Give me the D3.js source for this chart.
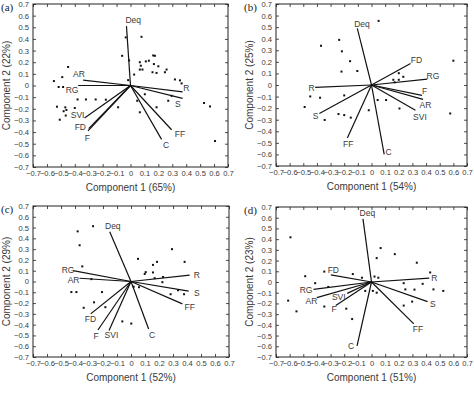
<!DOCTYPE html>
<html><head><meta charset="utf-8">
<script src="https://cdn.jsdelivr.net/npm/d3@7"></script>
<style>
html,body{margin:0;padding:0;background:#fff;}
svg{display:block;}
</style></head>
<body>
<svg id="chart" width="474" height="393"></svg>
<script>
// ---------- DATA ----------
const tickValues = [-0.7,-0.6,-0.5,-0.4,-0.3,-0.2,-0.1,0,0.1,0.2,0.3,0.4,0.5,0.6,0.7];
const panelLetters = ["(a)","(b)","(c)","(d)"];
const xTitles = ["Component 1 (65%)","Component 1 (54%)","Component 1 (52%)","Component 1 (51%)"];
const yTitles = ["Component 2 (22%)","Component 2 (25%)","Component 2 (29%)","Component 2 (23%)"];

// panel (a)
const aVars  = ["Deq","AR","RG","R","S","FF","C","SVI","FD","F"];
const aLoadX = [-0.029,-0.34,-0.376,0.374,0.374,0.295,0.223,-0.33,-0.30,-0.305];
const aLoadY = [0.51,0.046,0.0,-0.055,-0.11,-0.38,-0.463,-0.28,-0.37,-0.39];
const aLabX  = [0.02,-0.37,-0.42,0.40,0.34,0.355,0.255,-0.38,-0.36,-0.31];
const aLabY  = [0.56,0.10,-0.035,-0.025,-0.16,-0.42,-0.515,-0.25,-0.355,-0.45];
const aPtX = [-0.034,0.079,-0.06,-0.01,-0.017,0.026,0.067,0.074,0.067,0.086,0.11,0.132,0.163,0.175,0.168,0.2,0.158,0.187,0.247,0.259,0.319,0.355,0.367,0.295,0.271,0.187,0.103,0.048,0.067,0.528,0.571,0.607,-0.089,-0.177,-0.25,-0.32,-0.38,-0.4,-0.448,-0.49,-0.55,-0.516,-0.484,-0.528,-0.508,-0.465,-0.48,-0.46,-0.468];
const aPtY = [0.413,0.418,0.255,0.215,0.046,0.094,0.2,0.17,0.137,0.137,0.207,0.213,0.258,0.255,0.184,0.165,0.114,0.108,0.114,0.137,0.052,0.044,0.018,-0.089,-0.131,-0.187,-0.075,-0.131,-0.23,-0.15,-0.18,-0.477,-0.187,-0.122,-0.12,-0.12,-0.12,-0.193,0.159,0.072,0.038,-0.013,-0.013,-0.182,-0.294,-0.258,-0.221,-0.21,-0.188];

// panel (b)
const bVars  = ["Deq","FD","RG","F","AR","SVI","C","FF","S","R"];
const bLoadX = [-0.104,0.286,0.408,0.37,0.378,0.322,0.093,-0.177,-0.382,-0.413];
const bLoadY = [0.489,0.186,0.051,-0.09,-0.124,-0.218,-0.6,-0.458,-0.246,-0.02];
const bLabX  = [-0.07,0.33,0.45,0.39,0.395,0.355,0.125,-0.17,-0.41,-0.44];
const bLabY  = [0.53,0.22,0.075,-0.055,-0.17,-0.275,-0.58,-0.51,-0.27,-0.025];
const bPtX = [0.052,-0.237,-0.217,-0.37,-0.157,-0.22,-0.104,0.2,0.233,0.16,0.2,0.17,0.6,0.577,0.045,0.107,0.205,-0.02,-0.2,-0.242,-0.2,-0.152,-0.343,-0.449,-0.377,-0.49];
const bPtY = [0.554,0.39,0.291,0.339,0.206,0.116,0.121,0.102,0.071,0.045,0.045,0.023,0.21,-0.246,-0.13,-0.13,-0.203,-0.218,-0.09,-0.251,-0.26,-0.282,-0.302,-0.099,-0.11,-0.19];

// panel (c)
const cVars  = ["Deq","RG","AR","R","S","FF","C","SVI","F","FD"];
const cLoadX = [-0.152,-0.414,-0.367,0.419,0.412,0.367,0.126,-0.157,-0.236,-0.288];
const cLoadY = [0.462,0.10,0.03,0.059,-0.09,-0.207,-0.44,-0.454,-0.45,-0.30];
const cLabX  = [-0.13,-0.45,-0.41,0.47,0.47,0.42,0.15,-0.14,-0.25,-0.29];
const cLabY  = [0.51,0.11,0.01,0.06,-0.105,-0.235,-0.50,-0.50,-0.505,-0.35];
const cPtX = [-0.271,-0.381,-0.367,-0.348,-0.283,-0.426,-0.39,-0.207,-0.264,-0.338,-0.183,-0.062,0.002,0.019,0.05,0.105,0.098,0.157,0.186,0.157,0.169,0.229,0.224,0.293,0.383,0.283,0.336,0.379,0.057];
const cPtY = [0.513,0.465,0.336,0.14,0.022,-0.098,-0.098,-0.098,-0.193,-0.244,-0.238,-0.37,-0.39,-0.048,0.21,0.087,0.07,0.154,0.182,0.084,0.031,0.042,-0.006,0.30,0.182,-0.118,-0.081,-0.118,-0.053];

// panel (d)
const dVars  = ["Deq","FD","R","RG","AR","SVI","F","S","FF","C"];
const dLoadX = [-0.0625,-0.298,0.423,-0.425,-0.401,-0.178,-0.262,0.411,0.31,-0.106];
const dLoadY = [0.589,0.066,0.037,-0.069,-0.146,-0.106,-0.22,-0.183,-0.391,-0.597];
const dLabX  = [-0.03,-0.28,0.46,-0.48,-0.44,-0.24,-0.275,0.45,0.34,-0.15];
const dLabY  = [0.64,0.11,0.035,-0.075,-0.18,-0.14,-0.255,-0.205,-0.435,-0.6];
const dPtX = [-0.594,-0.611,-0.55,-0.486,-0.413,-0.346,-0.317,-0.346,-0.185,-0.142,-0.137,-0.07,-0.046,0.022,0.05,0.01,0.038,0.038,0.067,0.171,0.332,0.43,0.375,0.236,0.248,0.315,0.454,0.526,0.298,0.236];
const dPtY = [0.417,-0.174,-0.274,0.054,-0.011,0.097,-0.046,-0.229,-0.249,-0.346,0.074,0.04,-0.083,0.051,0.04,-0.083,-0.1,0.223,0.317,0.26,0.18,0.089,-0.017,-0.011,-0.069,-0.071,-0.069,-0.083,-0.183,-0.22];

// ---------- LAYOUT ----------
const boxes = [
  {x0:33, x1:228, y0:4,   y1:167},
  {x0:276,x1:467, y0:4,   y1:166},
  {x0:33, x1:229, y0:206, y1:357},
  {x0:276,x1:467, y0:207, y1:357}
];
const panels = [
  {vars:aVars,lx:aLoadX,ly:aLoadY,tx:aLabX,ty:aLabY,px:aPtX,py:aPtY},
  {vars:bVars,lx:bLoadX,ly:bLoadY,tx:bLabX,ty:bLabY,px:bPtX,py:bPtY},
  {vars:cVars,lx:cLoadX,ly:cLoadY,tx:cLabX,ty:cLabY,px:cPtX,py:cPtY},
  {vars:dVars,lx:dLoadX,ly:dLoadY,tx:dLabX,ty:dLabY,px:dPtX,py:dPtY}
];

const svg = d3.select("#chart");
const font = "'Liberation Sans', Arial, sans-serif";
const textCol = "#3a3a3a";
const fmt = v => v === 0 ? "0" : d3.format(".1f")(v);

panels.forEach((p, i) => {
  const b = boxes[i];
  const x = d3.scaleLinear().domain([-0.7,0.7]).range([b.x0,b.x1]);
  const y = d3.scaleLinear().domain([-0.7,0.7]).range([b.y1,b.y0]);
  const g = svg.append("g");

  // axes with inward ticks
  const gl = g.append("g").attr("transform",`translate(${b.x0},0)`)
    .call(d3.axisLeft(y).tickValues(tickValues).tickFormat(fmt).tickSizeInner(-3).tickSizeOuter(0).tickPadding(4));
  const gb = g.append("g").attr("transform",`translate(0,${b.y1})`)
    .call(d3.axisBottom(x).tickValues(tickValues).tickFormat(fmt).tickSizeInner(-3).tickSizeOuter(0).tickPadding(4));
  const gt = g.append("g").attr("transform",`translate(0,${b.y0})`)
    .call(d3.axisTop(x).tickValues(tickValues).tickFormat("").tickSizeInner(-3).tickSizeOuter(0));
  const gr = g.append("g").attr("transform",`translate(${b.x1},0)`)
    .call(d3.axisRight(y).tickValues(tickValues).tickFormat("").tickSizeInner(-3).tickSizeOuter(0));
  [gl,gb,gt,gr].forEach(a => {
    a.select(".domain").remove();
    a.selectAll("line").attr("stroke","#222").attr("stroke-width",0.8);
    a.selectAll("text").attr("font-family",font).attr("font-size",7.6).attr("fill",textCol);
  });

  // frame
  g.append("rect").attr("x",b.x0).attr("y",b.y0).attr("width",b.x1-b.x0).attr("height",b.y1-b.y0)
    .attr("fill","none").attr("stroke","#222").attr("stroke-width",1);

  // points
  g.append("g").selectAll("rect").data(p.px.map((v,k)=>[v,p.py[k]])).join("rect")
    .attr("x",d=>x(d[0])-1).attr("y",d=>y(d[1])-1).attr("width",2).attr("height",2).attr("fill","#111");

  // loading vectors
  g.append("g").selectAll("line").data(p.vars.map((n,k)=>({n,x:p.lx[k],y:p.ly[k]}))).join("line")
    .attr("x1",x(0)).attr("y1",y(0)).attr("x2",d=>x(d.x)).attr("y2",d=>y(d.y))
    .attr("stroke","#111").attr("stroke-width",1.2);
  g.append("g").selectAll("text").data(p.vars.map((n,k)=>({n,tx:p.tx[k],ty:p.ty[k]}))).join("text")
    .attr("x",d=>x(d.tx)).attr("y",d=>y(d.ty)).attr("text-anchor","middle").attr("dominant-baseline","central")
    .attr("font-family",font).attr("font-size",8.5).attr("fill",textCol).text(d=>d.n);

  // axis titles
  g.append("text").attr("x",(b.x0+b.x1)/2).attr("y",b.y1+24).attr("text-anchor","middle")
    .attr("font-family",font).attr("font-size",10).attr("fill",textCol).text(xTitles[i]);
  g.append("text").attr("transform",`translate(${b.x0-23},${(b.y0+b.y1)/2}) rotate(-90)`).attr("text-anchor","middle")
    .attr("font-family",font).attr("font-size",10).attr("fill",textCol).text(yTitles[i]);

  // panel letter
  g.append("text").attr("x",b.x0-32).attr("y",b.y0+7).attr("font-family","'Liberation Serif', serif")
    .attr("font-size",11).attr("fill","#222").text(panelLetters[i]);
});
</script>
</body></html>
